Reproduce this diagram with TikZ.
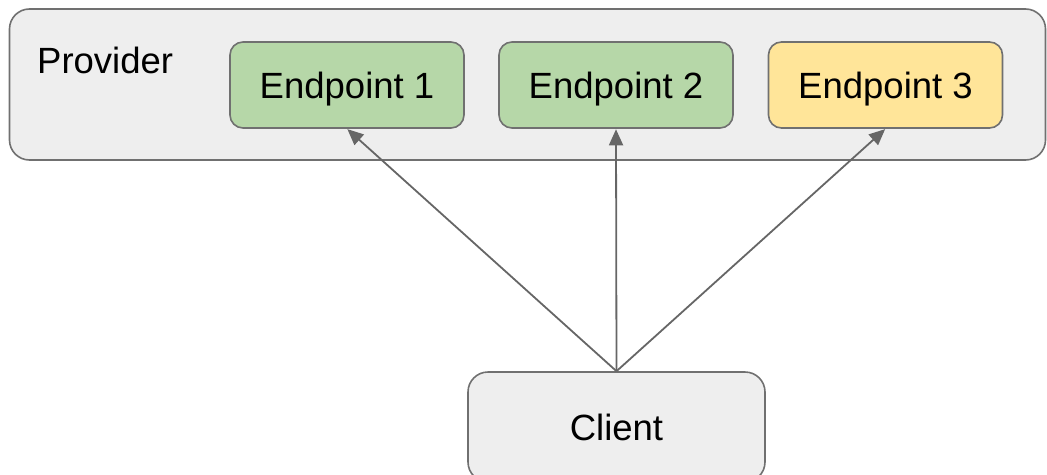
\documentclass[tikz,border=0pt]{standalone}
\usepackage{fontspec}
\setmainfont{Liberation Sans}
\usetikzlibrary{arrows.meta}
\definecolor{panelfill}{HTML}{EEEEEE}
\definecolor{edgegray}{HTML}{707070}
\definecolor{okgreen}{HTML}{B6D7A8}
\definecolor{warnyellow}{HTML}{FFE599}
\definecolor{linkgray}{HTML}{666666}
\tikzset{
  box/.style={draw=edgegray, line width=1.6pt, rounded corners=13pt,
    minimum width=234pt, minimum height=86pt, inner sep=0pt,
    text height=26pt, text depth=0pt,
    font=\fontsize{36.5}{40}\selectfont},
  link/.style={draw=linkgray, line width=1.8pt,
    -{Triangle[length=16pt,width=14pt]}, shorten >=0.5pt}
}
\begin{document}
\begin{tikzpicture}[x=1pt,y=-1pt]
\useasboundingbox (0,0) rectangle (1047,474);
% provider panel
\node[draw=edgegray, line width=1.6pt, fill=panelfill, rounded corners=20pt,
  minimum width=1036pt, minimum height=151pt, inner sep=0pt] (provider) at (527.5,84.5) {};
\node[anchor=base west, inner sep=0pt, font=\fontsize{36.5}{40}\selectfont] (ptitle) at (37,73) {Provider};
% endpoints
\node[box, fill=okgreen] (ep1) at (347,85) {Endpoint 1};
\node[box, fill=okgreen] (ep2) at (616,85) {Endpoint 2};
\node[box, fill=warnyellow] (ep3) at (885.5,85) {Endpoint 3};
% client
\node[box, fill=panelfill, minimum width=297pt, minimum height=110pt, rounded corners=20pt] (client) at (616.5,427) {Client};
% connectors
\draw[link] (client.north) -- (ep1.south);
\draw[link] (client.north) -- (ep2.south);
\draw[link] (client.north) -- (ep3.south);
\end{tikzpicture}
\end{document}
